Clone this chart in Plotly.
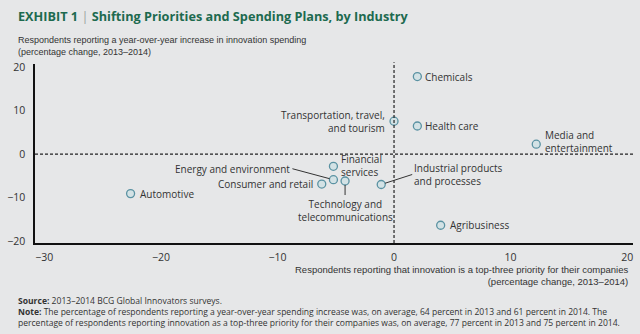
import plotly.graph_objects as go

# Industry positions: change in top-three priority share (x) vs change in
# share reporting higher innovation spending (y), 2013–2014, in points.
industries = [
    "Automotive", "Consumer and retail", "Energy and environment",
    "Financial services", "Technology and telecommunications",
    "Industrial products and processes", "Transportation, travel, and tourism",
    "Chemicals", "Health care", "Media and entertainment", "Agribusiness",
]
priority_change = [-22.6, -6.2, -5.2, -5.2, -4.2, -1.1, 0.0, 2.0, 2.0, 12.2, 4.0]
spending_change = [-9.1, -6.9, -5.9, -2.8, -6.2, -7.0, 7.6, 17.9, 6.5, 2.3, -16.4]

x_ticks = [-30, -20, -10, 0, 10, 20]
y_ticks = [-20, -10, 0, 10, 20]

BG = "#e6e7e8"
INK = "#333333"
GREEN = "#1d6a4f"
LABEL_FONT = dict(family="Open Sans, DejaVu Sans, sans-serif", size=10, color=INK)
NARROW = "Liberation Sans Narrow, Arial Narrow, sans-serif"

fig = go.Figure()

fig.add_trace(go.Scatter(
    x=priority_change, y=spending_change, mode="markers",
    marker=dict(symbol="circle", size=8, color="#d3e2e5",
                line=dict(color="#5a92a2", width=1.3)),
    hoverinfo="text", text=industries, showlegend=False,
))

# Label placement for each point: display text and offsets
label_style = {
    "Automotive": dict(text="Automotive", xanchor="left", xshift=7),
    "Consumer and retail": dict(text="Consumer and retail", xanchor="right", xshift=-7),
    "Energy and environment": dict(text="Energy and environment", xanchor="right",
                                   arrow=(-41, -11)),
    "Financial services": dict(text="Financial<br>services", xanchor="left", xshift=6, yshift=1),
    "Technology and telecommunications": dict(text="Technology and<br>telecommunications",
                                              xanchor="center", yanchor="top", arrow=(0, 14)),
    "Industrial products and processes": dict(text="Industrial products<br>and processes",
                                              xanchor="left", arrow=(31, -10)),
    "Transportation, travel, and tourism": dict(text="Transportation, travel,<br>and tourism",
                                                xanchor="right", xshift=-7, align="right"),
    "Chemicals": dict(text="Chemicals", xanchor="left", xshift=6),
    "Health care": dict(text="Health care", xanchor="left", xshift=6),
    "Media and entertainment": dict(text="Media and<br>entertainment", xanchor="left",
                                    xshift=7, yshift=3),
    "Agribusiness": dict(text="Agribusiness", xanchor="left", xshift=7),
}

for name, xv, yv in zip(industries, priority_change, spending_change):
    s = label_style[name]
    ann = dict(x=xv, y=yv, xref="x", yref="y", text=s["text"], font=LABEL_FONT,
               xanchor=s.get("xanchor", "left"), yanchor=s.get("yanchor", "middle"),
               align=s.get("align", "left" if s.get("xanchor") == "left" else "center"))
    if "arrow" in s:
        ax, ay = s["arrow"]
        ann.update(showarrow=True, ax=ax, ay=ay, arrowhead=0, arrowwidth=1,
                   arrowcolor=INK, standoff=4, borderpad=1)
    else:
        ann.update(showarrow=False, xshift=s.get("xshift", 0), yshift=s.get("yshift", 0))
    fig.add_annotation(**ann)

# Dashed zero reference lines
fig.add_shape(type="line", xref="x", yref="paper", x0=0, x1=0, y0=0, y1=1.01,
              line=dict(color="#222222", width=1.2, dash="3px,2px"))
fig.add_shape(type="line", xref="paper", yref="y", x0=0, x1=1, y0=0, y1=0,
              line=dict(color="#222222", width=1.2, dash="3px,2px"))

# Title, axis captions, and footnotes
fig.add_annotation(
    xref="paper", yref="paper", x=-0.032, y=1.0, yshift=48, xanchor="left", yanchor="middle",
    showarrow=False,
    text=("<b>EXHIBIT 1</b> <span style='color:#9aa0a0'>|</span> "
          "<b>Shifting Priorities and Spending Plans, by Industry</b>"),
    font=dict(family="Open Sans, Roboto, sans-serif", size=12.7, color=GREEN),
)
fig.add_annotation(
    xref="paper", yref="paper", x=-0.032, y=1.0, yshift=18, xanchor="left", yanchor="middle",
    showarrow=False, align="left",
    text="Respondents reporting a year-over-year increase in innovation spending<br>"
         "(percentage change, 2013–2014)",
    font=dict(family=NARROW, size=9, color=INK),
)
fig.add_annotation(
    xref="paper", yref="paper", x=0.995, y=0, yshift=-32, xanchor="right", yanchor="middle",
    showarrow=False, align="right",
    text="Respondents reporting that innovation is a top-three priority for their companies<br>"
         "(percentage change, 2013–2014)",
    font=dict(family=NARROW, size=9.5, color=INK),
)
fig.add_annotation(
    xref="paper", yref="paper", x=-0.032, y=0, yshift=-50, xanchor="left", yanchor="top",
    showarrow=False, align="left",
    text=("<b>Source:</b> 2013–2014 BCG Global Innovators surveys.<br>"
          "<b>Note:</b> The percentage of respondents reporting a year-over-year spending increase "
          "was, on average, 64 percent in 2013 and 61 percent in 2014. The<br>"
          "percentage of respondents reporting innovation as a top-three priority for their "
          "companies was, on average, 77 percent in 2013 and 75 percent in 2014."),
    font=dict(family="Open Sans, DejaVu Sans, sans-serif", size=8.55, color=INK),
)

axis_font = dict(family="Open Sans, DejaVu Sans, sans-serif", size=10.5, color=INK)
fig.update_xaxes(range=[-30.8, 20.5], tickvals=x_ticks, ticktext=[str(v).replace("-", "−") for v in x_ticks],
                 showgrid=False, zeroline=False, showline=True, linecolor="#111111",
                 linewidth=1.5, ticks="", tickfont=axis_font, ticklabelstandoff=4)
fig.update_yaxes(range=[-20.5, 20.8], tickvals=y_ticks, ticktext=[str(v).replace("-", "−") for v in y_ticks],
                 showgrid=False, zeroline=False, showline=True, linecolor="#111111",
                 linewidth=1.5, ticks="", tickfont=axis_font, ticklabelstandoff=6)

fig.update_layout(
    width=640, height=334,
    margin=dict(l=33, r=7, t=64, b=91),
    paper_bgcolor=BG, plot_bgcolor=BG,
)

fig.write_html("out.html")
